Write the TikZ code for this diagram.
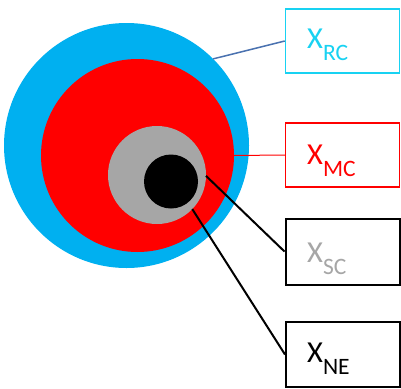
\documentclass[tikz,border=0pt]{standalone}
\usepackage{fontspec}
\setmainfont{Carlito}
\definecolor{cblue}{HTML}{00B0F0}
\definecolor{cred}{HTML}{FF0000}
\definecolor{cgray}{HTML}{A6A6A6}
\definecolor{ccyan}{HTML}{18D2F2}
\definecolor{lblue}{HTML}{4A72B0}
\newcommand{\lab}[2]{\fontsize{30.5}{30.5}\selectfont #1\raisebox{-12pt}{\fontsize{23.5}{23.5}\selectfont #2}}
\begin{document}
\begin{tikzpicture}[x=1pt,y=-1pt,
  disc/.style={circle, inner sep=0pt, outer sep=0pt},
  lbox/.style={rectangle, inner sep=0pt, minimum width=114pt, minimum height=64pt, fill=white},
  lbl/.style={anchor=base west, inner sep=0pt}]
\useasboundingbox (0,0) rectangle (401,388);
\node[disc, fill=cblue, minimum size=245pt] (blue) at (126.5,145.5) {};
\node[disc, fill=cred, minimum size=193pt] (red) at (137.5,155.5) {};
\node[disc, fill=cgray, minimum size=98pt] (gray) at (157,175) {};
\node[disc, fill=black, minimum size=54pt] (blk) at (171,181.5) {};
\node[lbox, draw=ccyan, line width=1.5pt] (brc) at (342.5,41) {};
\node[lbox, draw=cred, line width=1.5pt] (bmc) at (342.5,155) {};
\node[lbox, draw=black, line width=2pt, minimum height=66pt] (bsc) at (342.5,251.5) {};
\node[lbox, draw=black, line width=2pt, minimum height=65pt] (bne) at (343,354.5) {};
\node[lbl, text=ccyan] (trc) at (307,48.5) {\lab{X}{RC}};
\node[lbl, text=cred] (tmc) at (307,164) {\lab{X}{MC}};
\node[lbl, text=cgray] (tsc) at (307,262) {\lab{X}{SC}};
\node[lbl, text=black] (tne) at (307,362) {\lab{X}{NE}};
\draw[lblue, line width=1.5pt] (blue.45) -- (brc.west);
\draw[cred, line width=1pt] (red.east) -- (bmc.west);
\draw[black, line width=2pt] (gray.-1) -- (bsc.west);
\draw[black, line width=2pt] (gray.-44) -- (bne.west);
\end{tikzpicture}
\end{document}
